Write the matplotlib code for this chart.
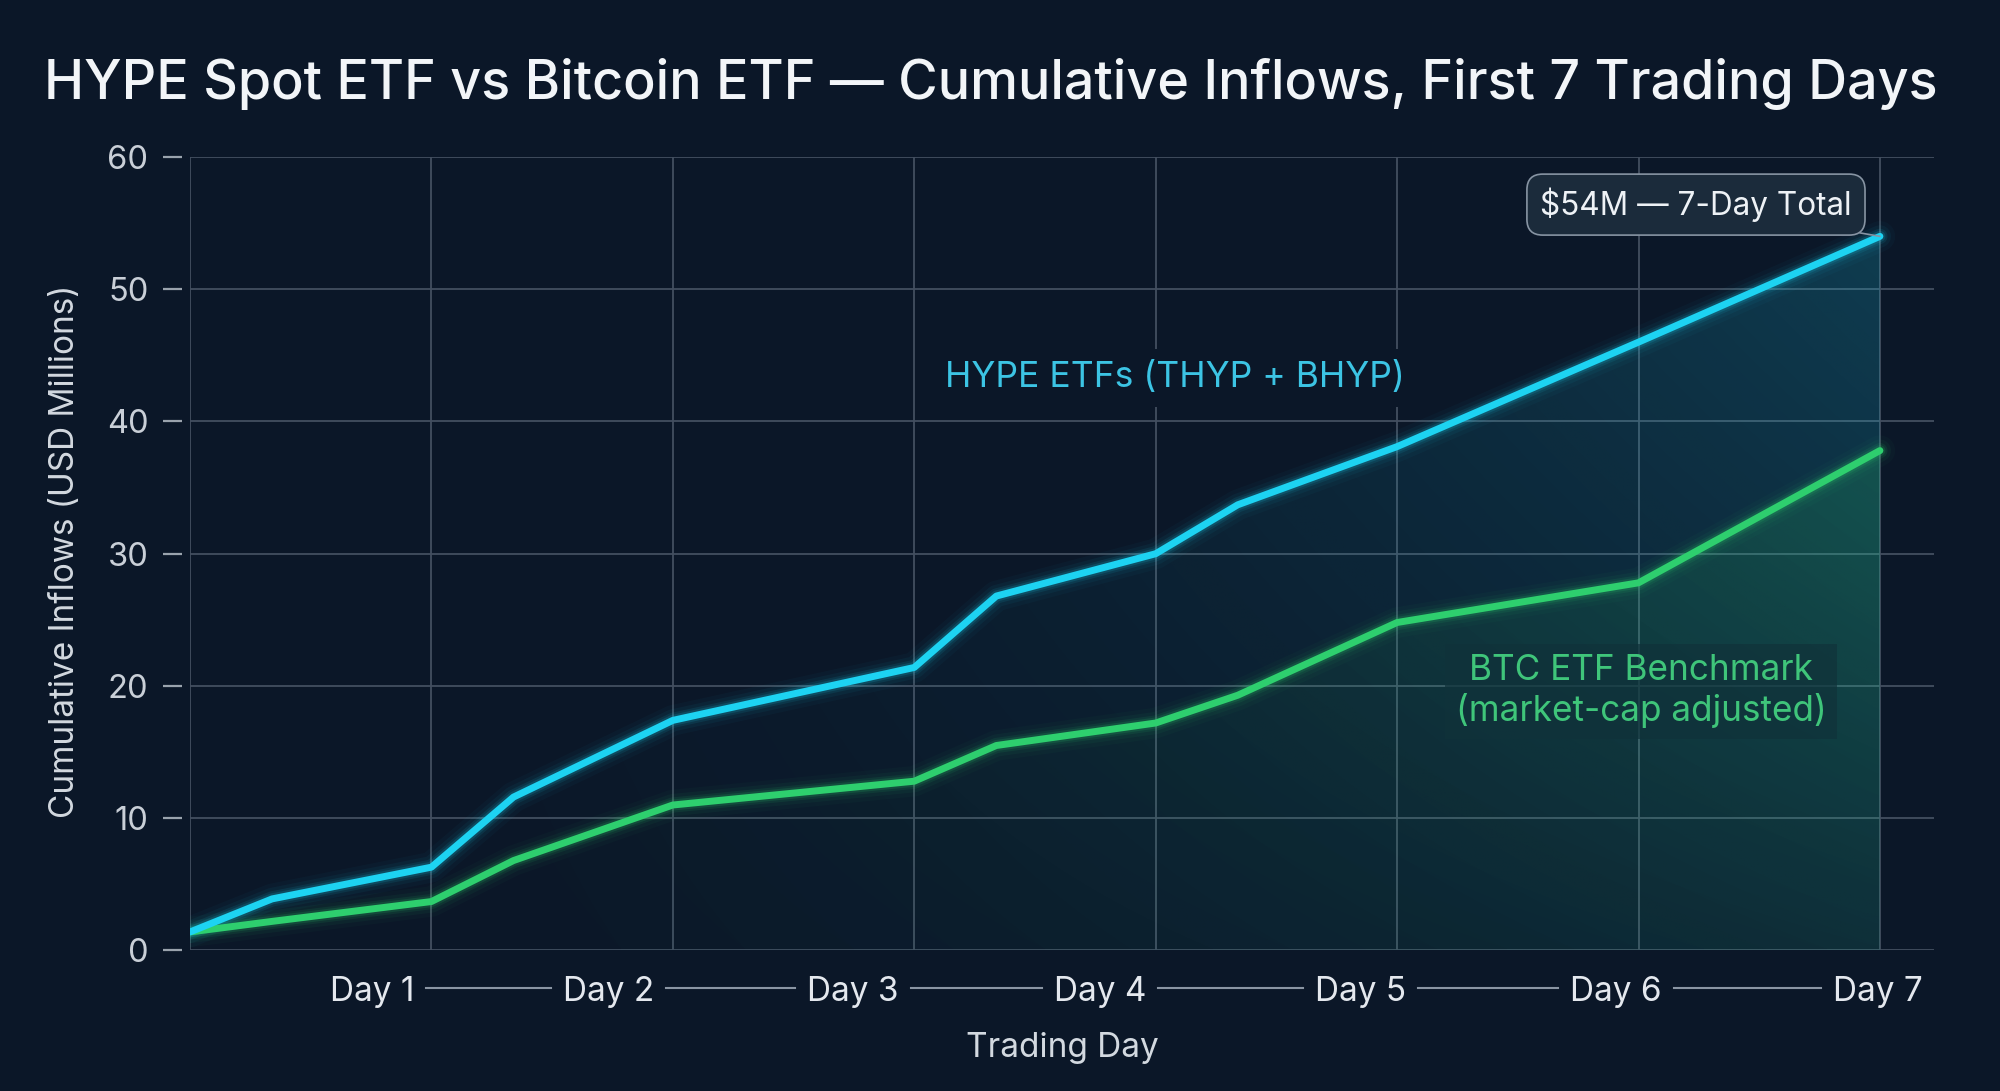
import numpy as np
import matplotlib
matplotlib.use("Agg")
import matplotlib.pyplot as plt
from matplotlib.lines import Line2D
from matplotlib.transforms import blended_transform_factory, IdentityTransform

# ---------------- data ----------------
days = [0, 0.34, 1, 1.34, 2, 3, 3.34, 4, 4.34, 5, 6, 7]
hype = [1.4, 3.9, 6.3, 11.6, 17.4, 21.4, 26.8, 30.0, 33.7, 38.1, 46.0, 54.0]
btc = [1.4, 2.2, 3.7, 6.8, 11.0, 12.8, 15.5, 17.2, 19.3, 24.8, 27.8, 37.8]
yticks = [0, 10, 20, 30, 40, 50, 60]
grid_days = [0, 1, 2, 3, 4, 5, 6, 7]
day_labels = ["Day 1", "Day 2", "Day 3", "Day 4", "Day 5", "Day 6", "Day 7"]
day_label_pos = [0.754, 1.732, 2.746, 3.770, 4.847, 5.907, 6.993]

title = "HYPE Spot ETF vs Bitcoin ETF \u2014 Cumulative Inflows, First 7 Trading Days"
ylabel = "Cumulative Inflows (USD Millions)"
xlabel = "Trading Day"
hype_label = "HYPE ETFs (THYP + BHYP)"
btc_label = "BTC ETF Benchmark\n(market-cap adjusted)"
total_label = "$54M \u2014 7-Day Total"

# ---------------- style ----------------
BG = "#0b1728"
CYAN = "#1dd3f2"
GREEN = "#2ecf6e"
GRID = "#434f60"
plt.rcParams["font.family"] = ["Inter", "DejaVu Sans"]

fig = plt.figure(figsize=(20, 10.91), dpi=100, facecolor=BG)
ax = fig.add_axes([0.095, 0.1288, 0.872, 0.7273])
ax.set_facecolor(BG)
XMAX = 7.224
ax.set_xlim(0, XMAX)
ax.set_ylim(0, 60)

for s in ax.spines.values():
    s.set_visible(False)
ax.spines["left"].set_position(("outward", 6))

ax.set_xticks(grid_days)
ax.set_xticklabels([])
ax.tick_params(axis="x", length=0)
ax.set_yticks(yticks)
ax.set_yticklabels([str(v) for v in yticks])
ax.tick_params(axis="y", length=14, width=1.6, color="#9aa3ad", pad=10,
               labelsize=23.5, labelcolor="#c9cfd7")

ax.grid(True, color=GRID, lw=1.3, zorder=0)
ax.set_axisbelow(True)


def gradient_fill(x, y, color, amax, ymax):
    poly = ax.fill_between(x, y, 0, facecolor="none", edgecolor="none")
    path = poly.get_paths()[0]
    nx, ny = 400, 300
    xx = np.linspace(0, XMAX, nx)
    yy = np.linspace(0, 60, ny)
    X, Y = np.meshgrid(xx, yy)
    a = amax * np.clip(X / 7.0, 0, 1) ** 1.6 * (0.35 + 0.65 * np.clip(Y / ymax, 0, 1))
    rgba = np.zeros((ny, nx, 4))
    rgba[..., :3] = matplotlib.colors.to_rgb(color)
    rgba[..., 3] = a
    im = ax.imshow(rgba, extent=[0, XMAX, 0, 60], origin="lower",
                   aspect="auto", zorder=1, interpolation="bilinear")
    im.set_clip_path(path, transform=ax.transData)


gradient_fill(days, hype, CYAN, 0.20, 54)
gradient_fill(days, btc, GREEN, 0.20, 38)


def glow_line(x, y, color):
    for lw, al in [(22, 0.03), (16, 0.05), (11, 0.09), (8, 0.14)]:
        ax.plot(x, y, color=color, lw=lw, alpha=al, solid_capstyle="round",
                solid_joinstyle="round", zorder=3)
    ax.plot(x, y, color=color, lw=5.0, solid_capstyle="round",
            solid_joinstyle="round", zorder=4)


glow_line(days, btc, GREEN)
glow_line(days, hype, CYAN)

# labels inside plot
ax.text(4.08, 43.3, hype_label, color="#3cc4e4", fontsize=25.5, ha="center",
        va="center", zorder=5,
        bbox=dict(boxstyle="square,pad=0.35", facecolor=BG, edgecolor="none"))
ax.text(6.01, 19.6, btc_label, color="#3fc57a", fontsize=25.3, ha="center",
        va="center", zorder=5, linespacing=1.2,
        bbox=dict(boxstyle="square,pad=0.3", facecolor="#10323a", edgecolor="none",
                  alpha=0.7))
ax.annotate(total_label, xy=(7, 54), xytext=(6.238, 56.4), color="#eef2f6",
            fontsize=22.7, ha="center", va="center", zorder=6,
            bbox=dict(boxstyle="round,pad=0.42,rounding_size=0.5", facecolor="#1b2b3b",
                      edgecolor="#8794a3", lw=1.2),
            arrowprops=dict(arrowstyle="-", color="#8794a3", lw=1.2,
                            shrinkA=0, shrinkB=0))

# x day labels
tr = blended_transform_factory(ax.transData, ax.transAxes)
txts = []
for lab, p in zip(day_labels, day_label_pos):
    t = ax.text(p, -0.0636, lab, transform=tr, ha="center", va="baseline",
                fontsize=24, color="#e4e8ee")
    txts.append(t)

ax.text(0.5, -0.1342, xlabel, transform=ax.transAxes, ha="center", va="baseline",
        fontsize=24, color="#d3d9e0")
fig.text(0.0325, 0.495, ylabel, rotation=90, ha="center", va="center",
         fontsize=24, color="#d3d9e0")
fig.text(0.4955, 0.9093, title, ha="center", va="baseline", fontsize=38.8,
         fontweight="medium", color="#f2f5f8")

# connector dashes between day labels
fig.canvas.draw()
rend = fig.canvas.get_renderer()
ydash = ax.transAxes.transform((0, -0.0473))[1]
for a, b in zip(txts[:-1], txts[1:]):
    ba = a.get_window_extent(rend)
    bb = b.get_window_extent(rend)
    fig.add_artist(Line2D([ba.x1 + 12, bb.x0 - 12], [ydash, ydash],
                          transform=IdentityTransform(), color="#8a95a3", lw=1.5))

fig.savefig("out.png", dpi=100, facecolor=BG)
